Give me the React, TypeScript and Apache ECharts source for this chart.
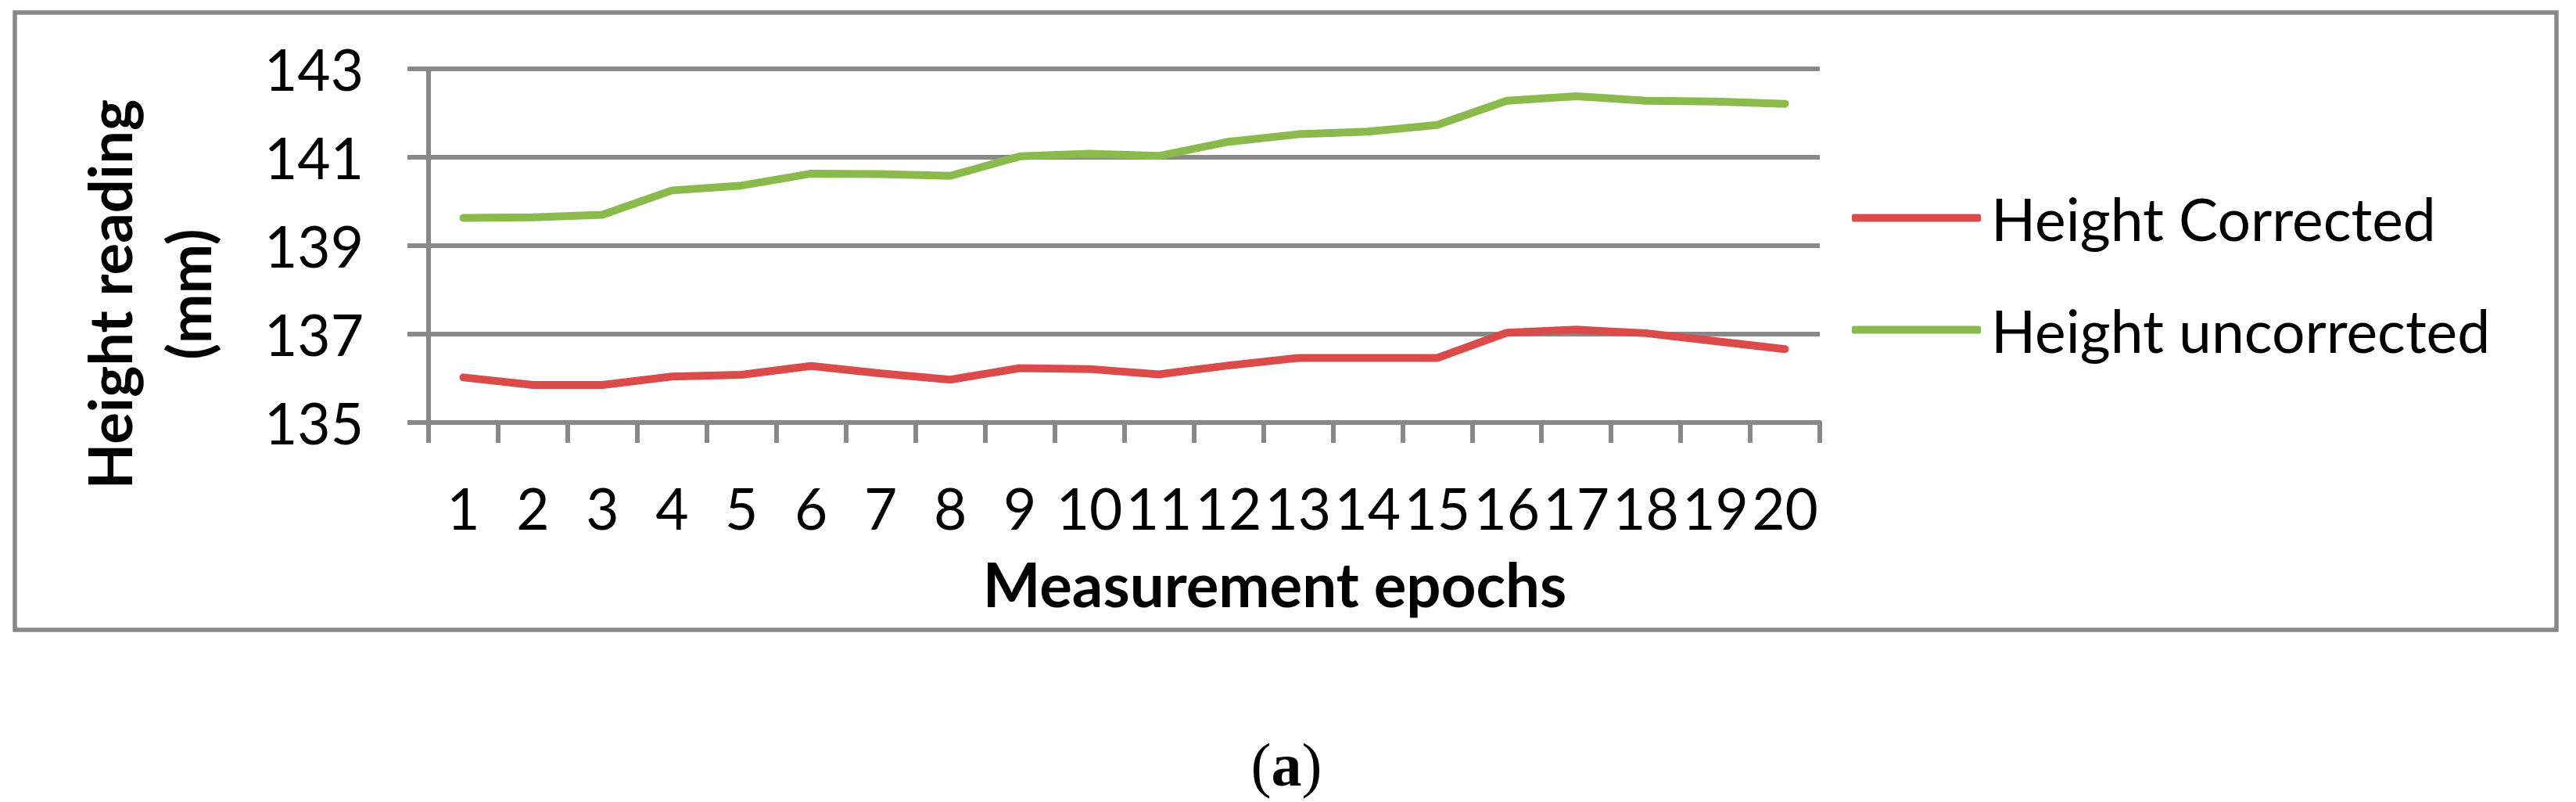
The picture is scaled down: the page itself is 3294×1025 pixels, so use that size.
import React, { useEffect, useRef } from "react";
import * as echarts from "echarts";

const categories = ["1", "2", "3", "4", "5", "6", "7", "8", "9", "10", "11", "12", "13", "14", "15", "16", "17", "18", "19", "20"];
const heightCorrected = [136.02, 135.85, 135.85, 136.04, 136.08, 136.28, 136.11, 135.97, 136.23, 136.21, 136.09, 136.29, 136.46, 136.46, 136.46, 137.03, 137.1, 137.02, 136.84, 136.66];
const heightUncorrected = [139.63, 139.64, 139.7, 140.25, 140.36, 140.63, 140.62, 140.58, 141.02, 141.08, 141.03, 141.35, 141.52, 141.58, 141.73, 142.28, 142.38, 142.28, 142.26, 142.21];
const seriesNames = ["Height Corrected", "Height uncorrected"];
const yAxisTitle = "Height reading\n(mm)";
const xAxisTitle = "Measurement epochs";
const panelLabel = "a";

const GRAY = "#888888";
const RED = "#DB4B4A";
const GREEN = "#8BBA4C";
const FONT = "Lato";

export default function App() {
  const ref = useRef<HTMLDivElement>(null);
  useEffect(() => {
    if (!ref.current) return;
    const chart = echarts.init(ref.current, null, { renderer: "svg" });
    chart.setOption({
      animation: false,
      backgroundColor: "#ffffff",
      grid: { left: 548, top: 88, width: 1779, height: 452, containLabel: false },
      legend: {
        orient: "vertical",
        left: 2363,
        top: 236,
        icon: "roundRect",
        itemWidth: 165,
        itemHeight: 10,
        itemGap: 68,
        data: seriesNames,
        textStyle: { fontFamily: FONT, fontSize: 75, color: "#000000", padding: [0, 0, 0, 8] },
      },
      xAxis: {
        type: "category",
        data: categories,
        boundaryGap: true,
        axisLine: { show: true, lineStyle: { color: GRAY, width: 6 } },
        axisTick: { show: true, length: 26, alignWithLabel: false, lineStyle: { color: GRAY, width: 6 } },
        axisLabel: {
          interval: 0,
          margin: 109,
          verticalAlign: "middle",
          fontFamily: FONT,
          fontSize: 73,
          color: "#000000",
        },
        splitLine: { show: false },
      },
      yAxis: {
        type: "value",
        min: 135,
        max: 143,
        interval: 2,
        axisLine: { show: true, lineStyle: { color: GRAY, width: 6 } },
        axisTick: { show: true, length: 27, inside: false, lineStyle: { color: GRAY, width: 6 } },
        axisLabel: { margin: 83, fontFamily: FONT, fontSize: 73, color: "#000000" },
        splitLine: { show: true, lineStyle: { color: GRAY, width: 6 } },
      },
      series: [
        {
          name: seriesNames[0],
          type: "line",
          data: heightCorrected,
          symbol: "none",
          showSymbol: false,
          color: RED,
          itemStyle: { color: RED },
          lineStyle: { color: RED, width: 10, cap: "round", join: "round" },
        },
        {
          name: seriesNames[1],
          type: "line",
          data: heightUncorrected,
          symbol: "none",
          showSymbol: false,
          color: GREEN,
          itemStyle: { color: GREEN },
          lineStyle: { color: GREEN, width: 10, cap: "round", join: "round" },
        },
      ],
      graphic: [
        {
          type: "rect",
          shape: { x: 19, y: 16, width: 3250, height: 789 },
          style: { fill: "none", stroke: GRAY, lineWidth: 5.5 },
          z: 0,
        },
        {
          type: "text",
          x: 190,
          y: 376,
          rotation: Math.PI / 2,
          style: {
            text: yAxisTitle,
            fontFamily: FONT,
            fontWeight: "bold",
            fontSize: 76,
            lineHeight: 101,
            fill: "#000000",
            align: "center",
            verticalAlign: "middle",
          },
        },
        {
          type: "text",
          x: 1630,
          y: 746,
          style: {
            text: xAxisTitle,
            fontFamily: FONT,
            fontWeight: "bold",
            fontSize: 78,
            fill: "#000000",
            align: "center",
            verticalAlign: "middle",
          },
        },
        {
          type: "text",
          x: 1645,
          y: 977,
          style: {
            text: "({b|" + panelLabel + "})",
            fontFamily: "Liberation Serif",
            fontSize: 78,
            fill: "#000000",
            align: "center",
            verticalAlign: "middle",
            rich: {
              b: { fontFamily: "Liberation Serif", fontSize: 78, fontWeight: "bold", fill: "#000000" },
            },
          },
        },
      ],
    });
    return () => chart.dispose();
  }, []);
  return <div ref={ref} style={{ position: "absolute", left: 0, top: 0, width: 3294, height: 1025 }} />;
}
